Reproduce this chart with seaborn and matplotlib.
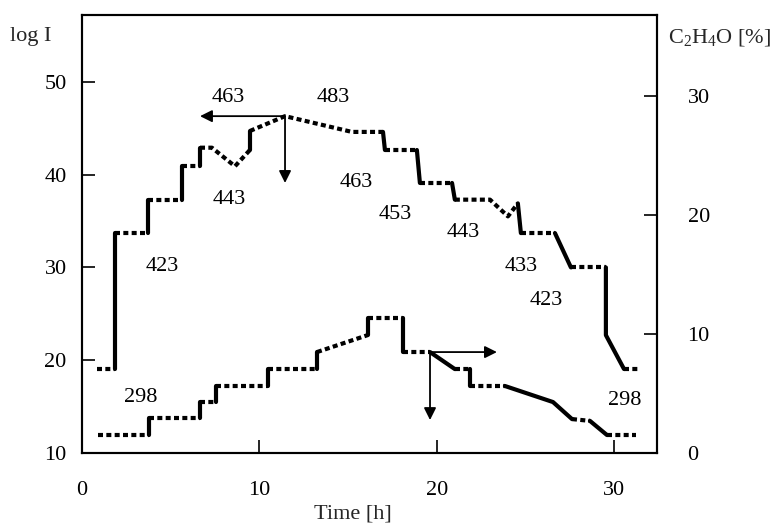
import numpy as np
import pandas as pd
import matplotlib
matplotlib.use("Agg")
import matplotlib.pyplot as plt
import seaborn as sns

# ---- data: log I (left axis) versus time ----
logi_time = [0.85, 1.86, 1.86, 3.72, 3.72, 5.63, 5.63, 6.65, 6.65, 7.32, 8.62,
             9.46, 9.46, 11.44, 15.21, 16.96, 17.07, 18.87, 19.04, 20.85, 21.01,
             22.99, 24.0, 24.56, 24.73, 26.65, 27.55, 29.52, 29.52, 30.54, 31.32]
logi_val = [19.05, 19.05, 33.7, 33.7, 37.3, 37.3, 40.9, 40.9, 42.9, 42.9, 40.9,
            42.65, 44.7, 46.3, 44.6, 44.6, 42.65, 42.65, 39.1, 39.1, 37.3,
            37.3, 35.5, 36.9, 33.7, 33.7, 30.0, 30.0, 22.7, 19.05, 19.05]
logi_seg = ["dot", "solid", "dot", "solid", "dot", "solid", "dot", "solid", "dot", "dot",
            "dot", "solid", "dot", "dot", "dot", "solid", "dot", "solid", "dot", "solid",
            "dot", "dot", "dot", "solid", "dot", "solid", "dot", "solid", "solid", "dot"]

# ---- data: C2H4O (right axis) versus time ----
eo_time = [0.9, 3.77, 3.77, 6.65, 6.65, 7.55, 7.55, 10.48, 10.48, 13.24, 13.24,
           16.11, 16.11, 18.08, 18.08, 19.61, 21.01, 21.86, 21.86, 23.83, 26.54,
           27.61, 28.62, 29.58, 31.21]
eo_val = [1.51, 1.51, 2.94, 2.94, 4.28, 4.28, 5.63, 5.63, 7.05, 7.05, 8.48,
          9.91, 11.34, 11.34, 8.48, 8.48, 7.05, 7.05, 5.63, 5.63, 4.28,
          2.85, 2.7, 1.51, 1.51]
eo_seg = ["dot", "solid", "dot", "solid", "dot", "solid", "dot", "solid", "dot", "solid",
          "dot", "solid", "dot", "solid", "dot", "solid", "dot", "solid", "dot", "solid",
          "solid", "dot", "solid", "dot"]

# temperature labels (K) on the log I scale
temp_labels = ["463", "483", "443", "423", "463", "453", "443", "433", "423", "298", "298"]
temp_x = [8.23, 14.14, 8.28, 4.51, 15.44, 17.63, 21.46, 24.73, 26.14, 3.32, 30.59]
temp_y = [48.36, 48.36, 37.37, 30.15, 39.2, 35.65, 33.8, 30.15, 26.38, 16.03, 15.71]

x_ticks = [0, 10, 20, 30]
left_ticks = [10, 20, 30, 40, 50]
right_ticks = [0, 10, 20, 30]


def runs(xs, ys, segs):
    rows = []
    run = -1
    prev = None
    for i, kind in enumerate(segs):
        if kind != prev:
            run += 1
            rows.append((run, kind, xs[i], ys[i]))
            prev = kind
        rows.append((run, kind, xs[i + 1], ys[i + 1]))
    return pd.DataFrame(rows, columns=["run", "kind", "t", "v"])


sns.set_theme(style="white")
plt.rcParams["font.family"] = ["Liberation Serif", "DejaVu Serif"]
plt.rcParams["mathtext.fontset"] = "custom"
plt.rcParams["mathtext.rm"] = "Liberation Serif"
plt.rcParams["mathtext.it"] = "Liberation Serif:italic"

FS = 16
fig = plt.figure(figsize=(7.74, 5.26), dpi=100)
ax = fig.add_axes([82 / 774, 73 / 526, 575 / 774, 438 / 526])
ax2 = ax.twinx()

dashes = {"dot": (1.2, 0.8), "solid": ""}
df1 = runs(logi_time, logi_val, logi_seg)
df2 = runs(eo_time, eo_val, eo_seg)
sns.lineplot(data=df1, x="t", y="v", units="run", estimator=None, style="kind",
             dashes=dashes, color="black", lw=3, sort=False, legend=False, ax=ax)
sns.lineplot(data=df2, x="t", y="v", units="run", estimator=None, style="kind",
             dashes=dashes, color="black", lw=3, sort=False, legend=False, ax=ax2)

ax.set_xlim(0, 32.4)
ax.set_ylim(10, 57.2)
ax2.set_ylim(0, 36.8)

ax.set_xticks(x_ticks)
ax.set_yticks(left_ticks)
ax2.set_yticks(right_ticks)
ax.set_xlabel("")
ax.set_ylabel("")
ax2.set_xlabel("")
ax2.set_ylabel("")

ax.tick_params(axis="y", direction="in", length=9.5, width=1.2, labelsize=FS, pad=11,
               colors="black", left=True)
ax.tick_params(axis="x", direction="in", length=9.5, width=1.2, labelsize=FS, pad=20,
               colors="black", bottom=True)
ax2.tick_params(axis="y", direction="in", length=9.5, width=1.2, labelsize=FS, pad=22,
                colors="black", right=True)
for a in (ax, ax2):
    for s in a.spines.values():
        s.set_linewidth(1.5)
        s.set_color("black")
        s.set_visible(True)

for lab, tx, ty in zip(temp_labels, temp_x, temp_y):
    ax.text(tx, ty, lab, ha="center", va="center", fontsize=FS, color="black")

arrow = dict(arrowstyle="-|>", lw=1.3, color="black", mutation_scale=18,
             shrinkA=0, shrinkB=0)
# log I arrows (to the left axis and down)
ax.annotate("", xy=(6.65, 46.3), xytext=(11.44, 46.3), arrowprops=arrow)
ax.annotate("", xy=(11.44, 39.1), xytext=(11.44, 46.3), arrowprops=arrow)
# C2H4O arrows (to the right axis and down)
ax2.annotate("", xy=(23.38, 8.48), xytext=(19.61, 8.48), arrowprops=arrow)
ax2.annotate("", xy=(19.61, 2.77), xytext=(19.61, 8.48), arrowprops=arrow)

fig.text(31 / 774, 1 - 37 / 526, "log I", ha="center", va="center", fontsize=FS)
fig.text(668 / 774, 1 - 37 / 526, r"C$_\mathregular{2}$H$_\mathregular{4}$O [%]",
         ha="left", va="center", fontsize=FS)
fig.text(353 / 774, 1 - 514 / 526, "Time [h]", ha="center", va="center", fontsize=FS)

fig.savefig("out.png", dpi=100)
